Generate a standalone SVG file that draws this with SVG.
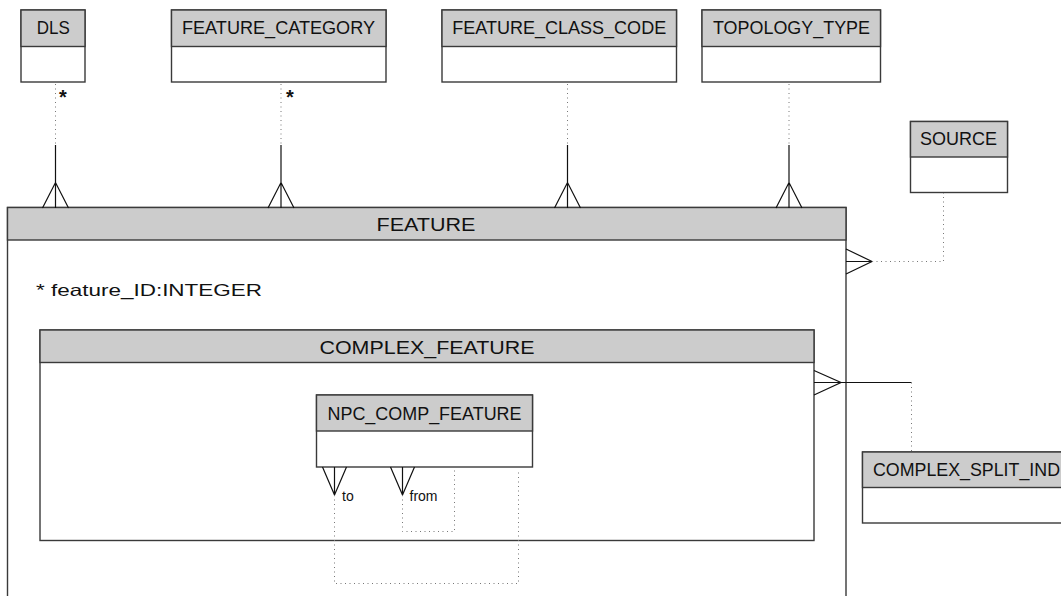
<svg xmlns="http://www.w3.org/2000/svg" width="1061" height="596" viewBox="0 0 1061 596">
<style>
.box{fill:#ffffff;stroke:#3a3a3a;stroke-width:1.4}
.hdr{fill:#cccccc;stroke:#3a3a3a;stroke-width:1.4}
.t{font-family:"Liberation Sans",Arial,sans-serif;font-size:18px;fill:#111;text-anchor:middle}
.attr{font-family:"Liberation Sans",Arial,sans-serif;font-size:16.5px;fill:#111}
.lbl{font-family:"Liberation Sans",Arial,sans-serif;font-size:14px;fill:#111}
.star{font-family:"Liberation Sans",Arial,sans-serif;font-size:20px;font-weight:bold;fill:#111}
.solid{fill:none;stroke:#111;stroke-width:1.2}
.dot{fill:none;stroke:#777;stroke-width:1;stroke-dasharray:1 3.5}
</style>
<rect width="1061" height="596" fill="#ffffff"/>

<g id="FEATURE">
<rect class="box" x="7.5" y="207.5" width="838.5" height="400"/>
<rect class="hdr" x="7.5" y="207.5" width="838.5" height="32.5"/>
<text class="t" x="426" y="230.5" textLength="99" lengthAdjust="spacingAndGlyphs">FEATURE</text>
<text class="attr" x="36" y="295.5" textLength="226" lengthAdjust="spacingAndGlyphs">*  feature_ID:INTEGER</text>
</g>

<g id="COMPLEX_FEATURE">
<rect class="box" x="40" y="330" width="774" height="210.5"/>
<rect class="hdr" x="40" y="330" width="774" height="32.5"/>
<text class="t" x="427" y="354" textLength="215" lengthAdjust="spacingAndGlyphs">COMPLEX_FEATURE</text>
</g>

<g id="NPC_COMP_FEATURE">
<rect class="box" x="316.5" y="395" width="216" height="72"/>
<rect class="hdr" x="316.5" y="395" width="216" height="36"/>
<text class="t" x="424.5" y="419.5" textLength="194" lengthAdjust="spacingAndGlyphs">NPC_COMP_FEATURE</text>
</g>

<g id="DLS">
<rect class="box" x="21" y="10" width="64" height="72"/>
<rect class="hdr" x="21" y="10" width="64" height="36.5"/>
<text class="t" x="53.3" y="34" textLength="33" lengthAdjust="spacingAndGlyphs">DLS</text>
</g>

<g id="FEATURE_CATEGORY">
<rect class="box" x="171.5" y="10" width="214.5" height="72"/>
<rect class="hdr" x="171.5" y="10" width="214.5" height="36.5"/>
<text class="t" x="278.5" y="34" textLength="193" lengthAdjust="spacingAndGlyphs">FEATURE_CATEGORY</text>
</g>

<g id="FEATURE_CLASS_CODE">
<rect class="box" x="442" y="10" width="234.5" height="72"/>
<rect class="hdr" x="442" y="10" width="234.5" height="36.5"/>
<text class="t" x="559.2" y="34" textLength="214" lengthAdjust="spacingAndGlyphs">FEATURE_CLASS_CODE</text>
</g>

<g id="TOPOLOGY_TYPE">
<rect class="box" x="702" y="10" width="178.5" height="72"/>
<rect class="hdr" x="702" y="10" width="178.5" height="36.5"/>
<text class="t" x="791.5" y="34" textLength="157" lengthAdjust="spacingAndGlyphs">TOPOLOGY_TYPE</text>
</g>

<g id="SOURCE">
<rect class="box" x="910.5" y="121.5" width="97" height="71"/>
<rect class="hdr" x="910.5" y="121.5" width="97" height="35.5"/>
<text class="t" x="958.5" y="145" textLength="77" lengthAdjust="spacingAndGlyphs">SOURCE</text>
</g>

<g id="COMPLEX_SPLIT_IND">
<rect class="box" x="862.5" y="452" width="220" height="71"/>
<rect class="hdr" x="862.5" y="452" width="220" height="35.5"/>
<text class="t" x="966.5" y="476" textLength="187" lengthAdjust="spacingAndGlyphs">COMPLEX_SPLIT_IND</text>
</g>

<g id="connectors">
<path class="dot" d="M55.5 84 V145"/>
<path class="solid" d="M55.5 145 V208 M42.5 208 L55.5 182.5 L68.5 208"/>
<text class="star" x="59" y="104">*</text>
<path class="dot" d="M281 84 V145"/>
<path class="solid" d="M281 145 V208 M268 208 L281 182.5 L294 208"/>
<text class="star" x="286" y="104">*</text>
<path class="dot" d="M567.5 84 V145"/>
<path class="solid" d="M567.5 145 V208 M554.5 208 L567.5 182.5 L580.5 208"/>
<path class="dot" d="M789 84 V145"/>
<path class="solid" d="M789 145 V208 M776 208 L789 182.5 L802 208"/>
<path class="solid" d="M846 261.5 H872 M846 249 L872 261.5 L846 274"/>
<path class="dot" d="M872 261.5 H943.5 V193"/>
<path class="solid" d="M814 382.5 H911.5 M814 370.5 L841 382.5 L814 395"/>
<path class="dot" d="M911.5 382.5 V452"/>
<path class="solid" d="M334.5 467 V495 M322.5 467 L334.5 495 L346.5 467"/>
<path class="dot" d="M334.5 495 V583.5 H518.5 V469"/>
<text class="lbl" x="342" y="501">to</text>
<path class="solid" d="M402.5 467 V495 M390.5 467 L402.5 495 L414.5 467"/>
<path class="dot" d="M402.5 495 V531.5 H454.5 V469"/>
<text class="lbl" x="409.5" y="501">from</text>
</g>
</svg>
